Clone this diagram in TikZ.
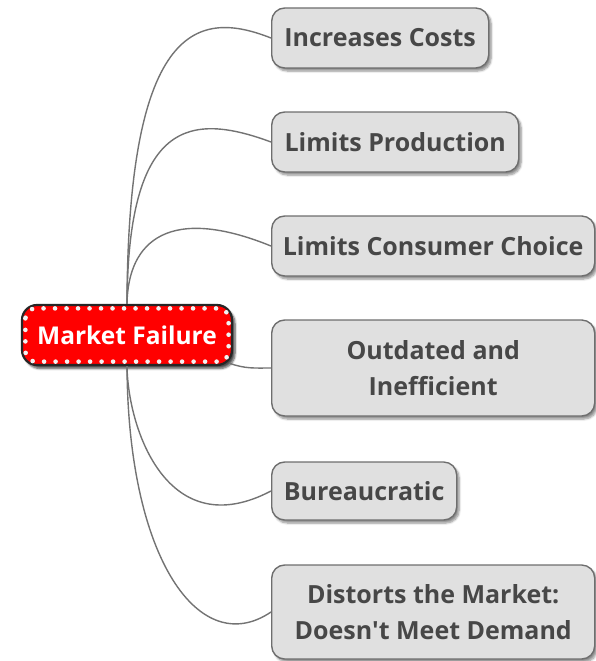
\documentclass[tikz,border=0pt]{standalone}
\usepackage{fontspec}
\setmainfont{Open Sans}
\usetikzlibrary{shadows.blur}

\definecolor{boxfill}{HTML}{E0E0E0}
\definecolor{boxedge}{HTML}{6E6E6E}
\definecolor{topictext}{HTML}{474747}
\definecolor{linkgray}{HTML}{737373}
\definecolor{rootedge}{HTML}{262626}
\definecolor{rootred}{HTML}{FF0000}
\definecolor{dotwhite}{HTML}{F2F2F2}

\begin{document}
\begin{tikzpicture}[x=1pt,y=-1pt,
  topic/.style={draw=boxedge, fill=boxfill, line width=1.4pt,
    rounded corners=13pt, anchor=west, inner sep=0pt, align=center,
    font=\fontsize{25}{36}\selectfont\bfseries, text=topictext,
    blur shadow={shadow xshift=2.5pt, shadow yshift=-3pt,
      shadow blur steps=6, shadow opacity=45}},
  root/.style={draw=rootedge, fill=rootred, line width=2.2pt,
    rounded corners=15pt, inner sep=0pt, align=center,
    font=\fontsize{24.5}{36}\selectfont\bfseries, text=white,
    blur shadow={shadow xshift=3pt, shadow yshift=-3.5pt,
      shadow blur steps=6, shadow opacity=70}},
  rootdots/.style={draw=dotwhite, line width=4.6pt, line cap=round,
    dash pattern=on 0pt off 11.5pt, rounded corners=10pt},
  link/.style={draw=linkgray, line width=1.4pt},
]
\useasboundingbox (0,0) rectangle (595,661);

% central topic
\node[root, minimum width=210pt, minimum height=60pt] (mf) at (127,335) {Market Failure};
\draw[rootdots] ([xshift=4.5pt,yshift=-4.5pt]mf.north west) rectangle ([xshift=-4.5pt,yshift=4.5pt]mf.south east);

% subtopics
\node[topic, minimum width=217pt, minimum height=60pt] (b1) at (271,38)  {Increases Costs};
\node[topic, minimum width=247pt, minimum height=60pt] (b2) at (271,142) {Limits Production};
\node[topic, minimum width=323pt, minimum height=60pt] (b3) at (271,246) {Limits Consumer Choice};
\node[topic, minimum width=323pt, minimum height=96pt] (b4) at (271,368) {Outdated and\\Inefficient};
\node[topic, minimum width=185pt, minimum height=58pt] (b5) at (271,491) {Bureaucratic};
\node[topic, minimum width=323pt, minimum height=94pt] (b6) at (271,612) {Distorts the Market:\\Doesn\textquotesingle t Meet Demand};

% branches
\draw[link] (mf.north) .. controls (128,20)  and (200,10)  .. (b1.west);
\draw[link] (mf.north) .. controls (128,120) and (190,112) .. (b2.west);
\draw[link] (mf.north) .. controls (128,240) and (170,205) .. (b3.west);
\draw[link] ([xshift=-4pt,yshift=3pt]mf.south east) .. controls (245,369) and (255,368) .. (b4.west);
\draw[link] (mf.south) .. controls (128,430) and (168,545) .. (b5.west);
\draw[link] (mf.south) .. controls (128,560) and (200,660) .. (b6.west);
\end{tikzpicture}
\end{document}
